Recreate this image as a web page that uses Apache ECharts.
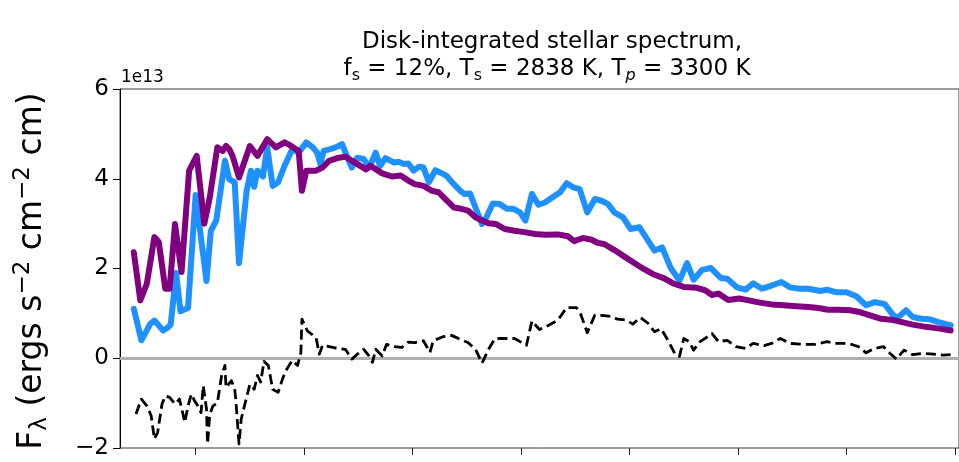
<!DOCTYPE html>
<html>
<head>
<meta charset="utf-8">
<script src="https://cdn.jsdelivr.net/npm/echarts@6/dist/echarts.min.js"></script>
<style>
  html, body { margin: 0; padding: 0; background: #ffffff; }
  #chart { width: 959px; height: 462px; }
</style>
</head>
<body>
<div id="chart"></div>
<script>
// Spotted-star model spectrum (flux in units of 1e13 ergs s^-2 cm^-2 cm)
const totalWave = [0.43,0.50,0.58,0.62,0.70,0.74,0.77,0.82,0.86,0.93,1.00,1.10,1.14,1.19,1.27,1.31,1.36,1.40,1.47,1.51,1.54,1.57,1.62,1.66,1.71,1.76,1.82,1.89,1.95,2.02,2.08,2.12,2.15,2.18,2.24,2.29,2.35,2.40,2.44,2.49,2.55,2.60,2.66,2.70,2.75,2.83,2.87,2.92,2.96,3.01,3.06,3.10,3.15,3.21,3.27,3.31,3.38,3.44,3.48,3.53,3.58,3.64,3.68,3.74,3.80,3.87,3.93,3.99,4.04,4.10,4.16,4.22,4.28,4.36,4.42,4.48,4.54,4.61,4.68,4.74,4.80,4.86,4.94,5.01,5.09,5.15,5.23,5.30,5.38,5.46,5.53,5.59,5.67,5.75,5.84,5.90,5.99,6.07,6.14,6.22,6.31,6.40,6.48,6.57,6.65,6.76,6.82,6.91,7.00,7.09,7.18,7.26,7.35,7.43,7.47,7.55,7.61,7.69,7.76,7.84,7.96];
const totalFlux = [1.10,0.40,0.76,0.84,0.62,0.68,0.75,1.90,1.05,1.12,3.64,1.72,2.84,3.07,4.40,3.99,3.92,2.12,3.73,4.18,3.82,4.18,4.05,4.70,3.84,3.92,4.29,4.66,4.58,4.81,4.70,4.58,4.33,4.62,4.66,4.70,4.77,4.47,4.25,4.47,4.44,4.25,4.58,4.28,4.46,4.36,4.38,4.33,4.34,4.18,4.27,4.25,3.92,4.19,4.12,4.07,3.88,3.73,3.66,3.67,3.36,2.99,3.14,3.45,3.44,3.33,3.33,3.25,3.07,3.66,3.42,3.47,3.57,3.70,3.90,3.81,3.77,3.25,3.55,3.51,3.44,3.25,3.14,2.88,2.92,2.70,2.40,2.47,2.01,1.73,2.12,1.75,1.97,2.01,1.79,1.77,1.58,1.53,1.67,1.55,1.62,1.70,1.58,1.55,1.55,1.50,1.53,1.47,1.47,1.38,1.18,1.25,1.21,0.96,0.90,1.07,0.92,0.88,0.87,0.81,0.73];

// Unspotted photosphere at T_p
const photWave = [0.43,0.49,0.55,0.62,0.66,0.72,0.76,0.81,0.87,0.94,1.01,1.08,1.13,1.20,1.25,1.28,1.31,1.34,1.40,1.50,1.57,1.66,1.74,1.82,1.88,1.95,1.98,2.02,2.11,2.17,2.23,2.32,2.38,2.47,2.57,2.61,2.72,2.81,2.89,2.96,3.02,3.10,3.18,3.24,3.30,3.38,3.45,3.51,3.58,3.64,3.70,3.77,3.85,3.94,4.03,4.13,4.22,4.34,4.43,4.49,4.57,4.64,4.71,4.77,4.86,4.95,5.04,5.13,5.23,5.32,5.41,5.50,5.62,5.70,5.76,5.82,5.91,6.01,6.10,6.20,6.31,6.42,6.54,6.65,6.74,6.83,6.92,7.03,7.12,7.21,7.32,7.41,7.50,7.61,7.73,7.86,7.96];
const photFlux = [2.36,1.29,1.66,2.70,2.59,1.55,1.55,2.99,1.92,4.18,4.51,3.00,3.58,4.70,4.62,4.73,4.66,4.51,4.03,4.73,4.51,4.88,4.70,4.81,4.73,4.62,3.73,4.18,4.18,4.25,4.40,4.47,4.49,4.36,4.21,4.29,4.12,4.05,4.07,3.96,3.88,3.84,3.73,3.70,3.55,3.36,3.33,3.29,3.14,3.07,3.01,2.99,2.88,2.84,2.81,2.77,2.75,2.76,2.72,2.61,2.68,2.65,2.57,2.54,2.41,2.27,2.13,1.99,1.86,1.78,1.66,1.59,1.57,1.51,1.41,1.44,1.30,1.33,1.29,1.24,1.20,1.18,1.16,1.14,1.12,1.08,1.08,1.07,1.03,0.96,0.88,0.86,0.81,0.75,0.70,0.66,0.62];

// Residual: spotted minus photosphere
const residWave = [0.45,0.50,0.55,0.59,0.62,0.65,0.69,0.72,0.76,0.81,0.85,0.87,0.90,0.93,0.96,0.99,1.02,1.05,1.07,1.10,1.11,1.13,1.16,1.20,1.24,1.27,1.28,1.33,1.36,1.37,1.40,1.42,1.45,1.50,1.54,1.57,1.60,1.63,1.67,1.71,1.76,1.80,1.83,1.89,1.94,1.97,1.98,2.03,2.11,2.14,2.17,2.23,2.31,2.38,2.44,2.49,2.55,2.60,2.63,2.66,2.72,2.76,2.83,2.90,2.96,3.02,3.10,3.16,3.19,3.28,3.36,3.44,3.51,3.58,3.64,3.70,3.76,3.83,3.94,4.05,4.10,4.17,4.25,4.34,4.42,4.51,4.55,4.61,4.68,4.77,4.83,4.89,4.97,5.03,5.10,5.17,5.23,5.29,5.35,5.42,5.46,5.50,5.55,5.59,5.65,5.72,5.76,5.82,5.90,5.98,6.07,6.14,6.24,6.31,6.39,6.48,6.60,6.71,6.82,6.91,7.02,7.11,7.18,7.26,7.34,7.40,7.46,7.53,7.61,7.70,7.80,7.89,7.96];
const residFlux = [-1.24,-0.91,-1.06,-1.28,-1.80,-1.65,-1.02,-0.84,-0.87,-1.02,-0.91,-1.10,-1.43,-1.06,-0.80,-0.95,-1.06,-1.21,-0.61,-1.13,-1.91,-1.25,-1.06,-1.00,-0.38,-0.16,-0.65,-0.50,-0.69,-0.91,-1.91,-1.36,-1.06,-0.58,-0.69,-0.38,-0.53,-0.07,-0.16,-0.69,-0.76,-0.47,-0.28,-0.05,-0.16,0.13,0.87,0.61,0.46,0.09,0.29,0.26,0.22,0.20,-0.02,0.09,0.20,0.05,-0.09,0.20,0.05,0.31,0.26,0.24,0.36,0.35,0.39,0.13,0.39,0.48,0.51,0.42,0.35,0.20,-0.11,0.20,0.44,0.44,0.44,0.29,0.83,0.64,0.73,0.85,1.13,1.13,0.98,0.57,0.96,0.95,0.93,0.87,0.85,0.76,0.91,0.78,0.59,0.66,0.42,0.09,0.04,0.44,0.37,0.18,0.37,0.48,0.55,0.37,0.40,0.26,0.22,0.33,0.28,0.33,0.44,0.33,0.31,0.31,0.37,0.33,0.33,0.26,0.12,0.22,0.26,0.11,-0.02,0.18,0.08,0.11,0.09,0.07,0.08];

const xTicks = [1, 2, 3, 4, 5, 6, 7, 8];
const yTicks = [-2, 0, 2, 4, 6];

const FONT = 'DejaVu Sans';
const xMin = 0.3028, xMax = 8.037;

function pairs(xs, ys) { return xs.map((x, i) => [x, ys[i]]); }
function minusSign(v) { return v < 0 ? '\u2212' + Math.abs(v) : String(v); }

const chart = echarts.init(document.getElementById('chart'), null, { renderer: 'canvas' });

chart.setOption({
  animation: false,
  backgroundColor: '#ffffff',
  textStyle: { fontFamily: FONT },
  grid: {
    left: 120, top: 89, right: -4, bottom: 14,
    show: true, borderColor: '#3a3a3a', borderWidth: 1, backgroundColor: 'transparent'
  },
  xAxis: [
    {
      type: 'value', min: xMin, max: xMax, position: 'bottom',
      axisLine: { show: false, onZero: false },
      axisTick: { show: true, length: 7, customValues: xTicks, lineStyle: { color: '#222', width: 1 } },
      axisLabel: { show: false },
      splitLine: { show: false }
    },
    {
      // horizontal reference line at zero flux
      type: 'value', min: xMin, max: xMax, position: 'bottom',
      axisLine: { show: true, onZero: true, onZeroAxisIndex: 0, lineStyle: { color: '#b0b0b0', width: 3 } },
      axisTick: { show: false },
      axisLabel: { show: false },
      splitLine: { show: false }
    }
  ],
  yAxis: {
    type: 'value', min: yTicks[0], max: yTicks[yTicks.length - 1], interval: 2,
    axisLine: { show: true, onZero: false, lineStyle: { color: '#000', width: 1 } },
    axisTick: { show: true, length: 7, lineStyle: { color: '#000', width: 1 } },
    axisLabel: { fontSize: 23, color: '#000', margin: 11, fontFamily: FONT, formatter: minusSign },
    splitLine: { show: false }
  },
  series: [
    {
      name: 'Spotted', type: 'line', xAxisIndex: 0, symbol: 'none',
      data: pairs(totalWave, totalFlux),
      lineStyle: { color: '#1e90ff', width: 6, join: 'round', cap: 'round' }
    },
    {
      name: 'Photosphere', type: 'line', xAxisIndex: 0, symbol: 'none',
      data: pairs(photWave, photFlux),
      lineStyle: { color: '#800080', width: 6, join: 'round', cap: 'round' }
    },
    {
      name: 'Residual', type: 'line', xAxisIndex: 0, symbol: 'none',
      data: pairs(residWave, residFlux),
      lineStyle: { color: '#000000', width: 2.8, type: [10, 5], join: 'round' }
    }
  ],
  graphic: [
    {
      type: 'text', x: 121, y: 69,
      style: { text: '1e13', fontSize: 17, fontFamily: FONT, fill: '#000' }
    },
    {
      type: 'text', x: 552, y: 42,
      style: { text: 'Disk-integrated stellar spectrum,', fontSize: 23, fontFamily: FONT, fill: '#000', align: 'center', verticalAlign: 'middle' }
    },
    {
      type: 'text', x: 547, y: 69,
      style: {
        text: '{n|f}{sub|s}{n| = 12%, T}{sub|s}{n| = 2838 K, T}{subi|p}{n| = 3300 K}',
        fontFamily: FONT, fill: '#000', align: 'center', verticalAlign: 'middle',
        rich: {
          n: { fontSize: 23, fontFamily: FONT, fill: '#000', lineHeight: 30, verticalAlign: 'middle' },
          sub: { fontSize: 16, fontFamily: FONT, fill: '#000', lineHeight: 30, verticalAlign: 'bottom' },
          subi: { fontSize: 16, fontFamily: FONT, fontStyle: 'italic', fill: '#000', lineHeight: 30, verticalAlign: 'bottom' }
        }
      }
    },
    {
      type: 'text', x: 32, y: 271, rotation: Math.PI / 2,
      style: {
        text: '{n|F}{sub|\u03bb}{n| (ergs s}{sup|\u22122}{n| cm}{sup|\u22122}{n| cm)}',
        fontFamily: FONT, fill: '#000', align: 'center', verticalAlign: 'middle',
        rich: {
          n: { fontSize: 33, fontFamily: FONT, fill: '#000', lineHeight: 40, verticalAlign: 'middle' },
          sub: { fontSize: 23, fontFamily: FONT, fill: '#000', verticalAlign: 'bottom', lineHeight: 40 },
          sup: { fontSize: 23, fontFamily: FONT, fill: '#000', verticalAlign: 'top', lineHeight: 40 }
        }
      }
    }
  ]
});
</script>
</body>
</html>
